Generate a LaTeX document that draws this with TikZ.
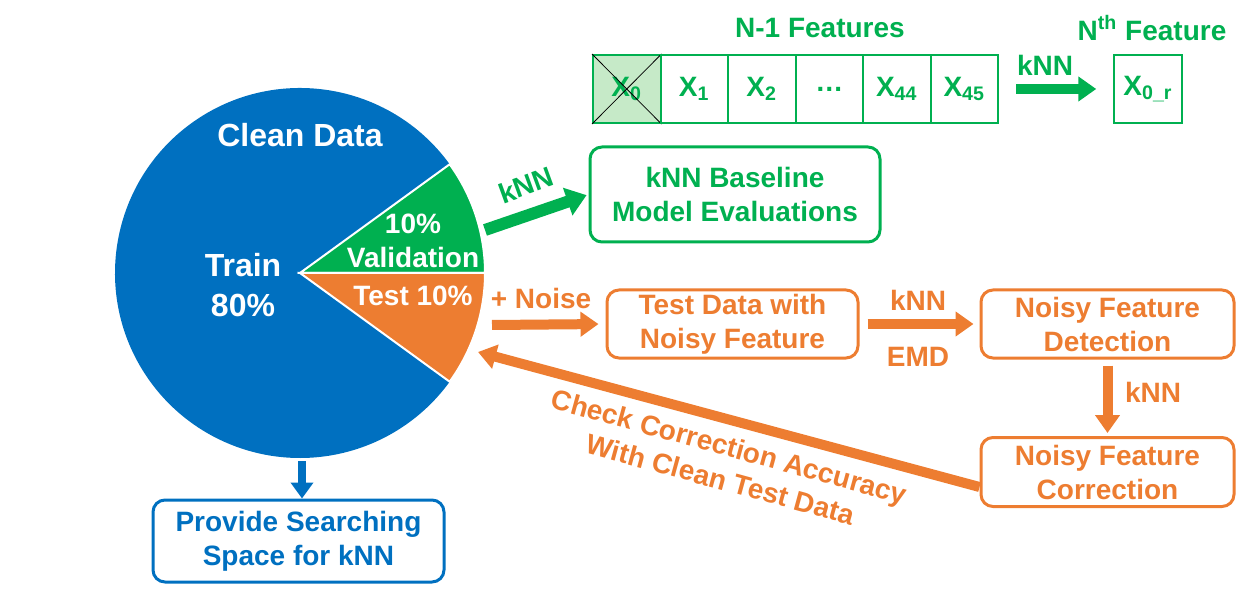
\documentclass[tikz,border=0pt]{standalone}
\usepackage{fontspec}
\setmainfont{Liberation Sans}
\usetikzlibrary{arrows.meta}
\definecolor{dblue}{RGB}{0,112,192}
\definecolor{dgreen}{RGB}{0,176,80}
\definecolor{dorange}{RGB}{237,125,49}
\definecolor{lgreen}{RGB}{198,234,200}
\begin{document}
\begin{tikzpicture}[x=0.5pt,y=0.5pt,
    txt/.style={font=\fontsize{14}{17}\selectfont\bfseries, align=center},
    big/.style={font=\fontsize{16}{20}\selectfont\bfseries, align=center, text=white},
    box/.style={txt, draw, line width=1.5pt, rounded corners=6pt, inner sep=0pt},
    cell/.style={txt, draw=dgreen, text=dgreen, line width=1pt, minimum width=33.75pt, minimum height=34pt, inner sep=0pt},
    fat/.style={line width=5pt, -{Triangle[length=9pt,width=12pt]}}]

      \useasboundingbox (0,0) rectangle (1247,595);

      \fill[dblue] (300,322) -- ++(36:185) arc[start angle=36,end angle=324,radius=185] -- cycle;
      \filldraw[fill=dgreen, draw=white, line width=1pt] (300,322) -- ++(0:185) arc[start angle=0,end angle=36,radius=185] -- cycle;
      \filldraw[fill=dorange, draw=white, line width=1pt] (300,322) -- ++(-36:185) arc[start angle=-36,end angle=0,radius=185] -- cycle;

      \node[big] (clean) at (300,460) {Clean Data};
      \node[big] (train) at (243,310) {Train\\80\%};
      \node[txt, text=white] (valid) at (413,354) {10\%\\Validation};
      \node[txt, text=white] (testp) at (413,299) {Test 10\%};

      \node[txt, text=dgreen] (nfeat) at (820,567) {N-1 Features};
      \node[txt, text=dgreen] (nth) at (1152,567) {N\textsuperscript{th} Feature};

      \node[cell, fill=lgreen] (c0) at (626.75,506) {X\textsubscript{0}};
      \draw (c0.north west) -- (c0.south east);
      \draw (c0.south west) -- (c0.north east);
      \foreach \lbl [count=\i] in {X\textsubscript{1}, X\textsubscript{2}, {\ldots}, X\textsubscript{44}, X\textsubscript{45}}
        \node[cell] (c\i) at (626.75+67.5*\i,506) {\lbl};
      \node[cell] (xr) at (1148,506) {X\textsubscript{0\_r}};
      \draw[fat, dgreen, shorten <=8.5pt, shorten >=8.5pt] (c5) -- (xr);
      \node[txt, text=dgreen] (k1) at (1045,530) {kNN};

      \node[box, draw=dgreen, text=dgreen, minimum width=145pt, minimum height=47.5pt] (base) at (735,400.5) {kNN Baseline\\Model Evaluations};
      \coordinate (vE) at (485,365);
      \draw[dgreen, line width=6pt, -{Triangle[length=10pt,width=14pt]}, shorten >=1pt] (vE) -- (base.west);
      \node[txt, text=dgreen, rotate=20] (k2) at (526,410) {kNN};

      \node[txt, text=dorange] (noise) at (541,297) {+ Noise};
      \node[box, draw=dorange, text=dorange, minimum width=125.5pt, minimum height=34pt] (test) at (732.5,271) {Test Data with\\Noisy Feature};
      \node[box, draw=dorange, text=dorange, minimum width=126.5pt, minimum height=34pt] (detect) at (1107.5,271) {Noisy Feature\\Detection};
      \node[box, draw=dorange, text=dorange, minimum width=126.5pt, minimum height=34.5pt] (correct) at (1107.5,123) {Noisy Feature\\Correction};
      \coordinate (tE) at (492,270);
      \coordinate (tB) at (478,243);
      \draw[fat, dorange, shorten >=3.5pt] (tE) -- (test.west);
      \draw[fat, dorange, shorten <=4pt, shorten >=3pt] (test) -- (detect);
      \node[txt, text=dorange] (k3) at (918,295) {kNN};
      \node[txt, text=dorange] (emd) at (918,238) {EMD};
      \draw[fat, dorange, shorten <=3pt, shorten >=1.5pt] (detect) -- (correct);
      \node[txt, text=dorange] (k4) at (1153,203) {kNN};
      \draw[fat, dorange] ([yshift=-7.5pt]correct.west) -- (tB);
      \node[txt, text=dorange, rotate=-15.3] (check) at (725,132) {Check Correction Accuracy\\With Clean Test Data};

      \node[box, draw=dblue, text=dblue, minimum width=145.5pt, minimum height=41pt] (prov) at (298.5,54) {Provide Searching\\Space for kNN};
      \coordinate (pS) at (302,134);
      \draw[dblue, line width=4pt, -{Triangle[length=8pt,width=11pt]}] (pS) -- (pS |- prov.north);
    \end{tikzpicture}
\end{document}
